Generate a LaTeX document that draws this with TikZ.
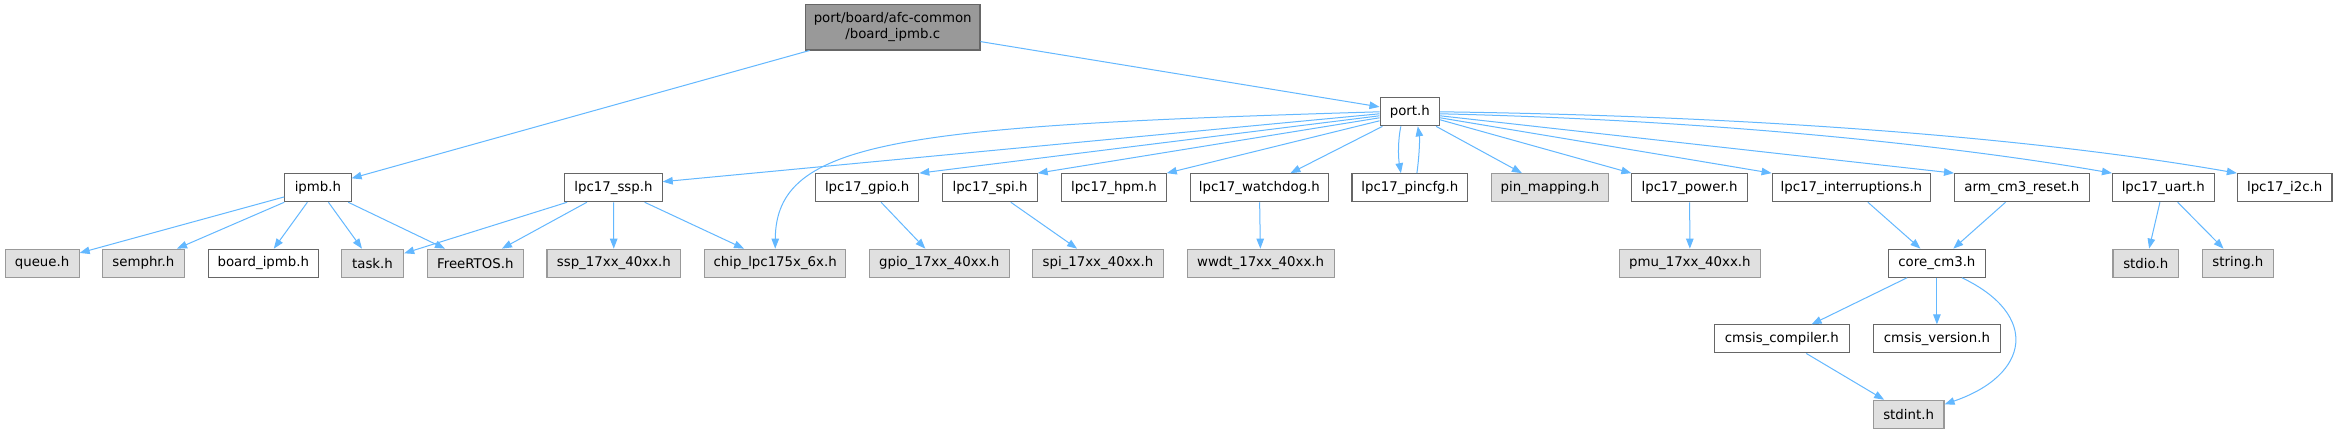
\documentclass[tikz,border=0pt]{standalone}
\usepackage{fontspec}
\setmainfont{DejaVu Sans}
\usetikzlibrary{arrows.meta,calc}
\definecolor{edgec}{HTML}{63B8FF}
\definecolor{bordw}{HTML}{666666}
\definecolor{bordg}{HTML}{999999}
\definecolor{fillg}{HTML}{E0E0E0}
\definecolor{fillm}{HTML}{999999}
\begin{document}
\begin{tikzpicture}[x=1pt,y=-1pt,
 box/.style={rectangle,draw,line width=1.1pt,inner sep=0pt,minimum height=28pt,font=\fontsize{13.33}{16}\selectfont,text=black},
 wnode/.style={box,draw=bordw,fill=white},
 gnode/.style={box,draw=bordg,fill=fillg},
 mnode/.style={box,draw=bordw,fill=fillm,align=center},
 conn/.style={draw=edgec,line width=1pt,-{Triangle[length=10pt,width=7.5pt]}},
]
\fill[white] (0,0) rectangle (2337,434);
\useasboundingbox (0,0) rectangle (2337,434);
% row 0/1
\node[mnode,minimum width=174.5pt,minimum height=45.3pt] (bic) at (892.7,27.3) {port/board/afc-common\\/board\_ipmb.c};
\node[wnode,minimum width=59.5pt] (port) at (1409.8,111.8) {port.h};
% row 2
\node[wnode,minimum width=66.3pt] (ipmb) at (317.9,187.7) {ipmb.h};
\node[wnode,minimum width=97.4pt] (ssp) at (613.5,187.7) {lpc17\_ssp.h};
\node[wnode,minimum width=103.1pt] (gpio) at (867.2,187.7) {lpc17\_gpio.h};
\node[wnode,minimum width=94.3pt] (spi) at (990,187.7) {lpc17\_spi.h};
\node[wnode,minimum width=104.6pt] (hpm) at (1113.9,187.7) {lpc17\_hpm.h};
\node[wnode,minimum width=138.3pt] (wdog) at (1259.4,187.7) {lpc17\_watchdog.h};
\node[wnode,minimum width=115.9pt] (pincfg) at (1409.9,187.7) {lpc17\_pincfg.h};
\node[gnode,minimum width=117.4pt] (pinmap) at (1549.9,187.7) {pin\_mapping.h};
\node[wnode,minimum width=115.4pt] (power) at (1689.6,187.7) {lpc17\_power.h};
\node[wnode,minimum width=158.6pt] (intr) at (1851.4,187.7) {lpc17\_interruptions.h};
\node[wnode,minimum width=134.7pt] (armrst) at (2021.9,187.7) {arm\_cm3\_reset.h};
\node[wnode,minimum width=101.6pt] (uart) at (2163.3,187.7) {lpc17\_uart.h};
\node[wnode,minimum width=94.6pt] (itwoc) at (2284.7,187.7) {lpc17\_i2c.h};
% row 3
\node[gnode,minimum width=74pt] (queue) at (42.1,263.2) {queue.h};
\node[gnode,minimum width=82.7pt] (semphr) at (143.4,263.2) {semphr.h};
\node[wnode,minimum width=110.2pt] (bipmbh) at (263.3,263.2) {board\_ipmb.h};
\node[gnode,minimum width=62.3pt] (task) at (372.5,263.2) {task.h};
\node[gnode,minimum width=96.5pt] (frtos) at (475.3,263.2) {FreeRTOS.h};
\node[gnode,minimum width=133.7pt] (ssphw) at (613.8,263.2) {ssp\_17xx\_40xx.h};
\node[gnode,minimum width=141.2pt] (chip) at (775.2,263.2) {chip\_lpc175x\_6x.h};
\node[gnode,minimum width=139.8pt] (gpiohw) at (939.2,263.2) {gpio\_17xx\_40xx.h};
\node[gnode,minimum width=130.6pt] (spihw) at (1097.9,263.2) {spi\_17xx\_40xx.h};
\node[gnode,minimum width=147pt] (wwdt) at (1260.6,263.2) {wwdt\_17xx\_40xx.h};
\node[gnode,minimum width=140.7pt] (pmu) at (1689.9,263.2) {pmu\_17xx\_40xx.h};
\node[wnode,minimum width=96.7pt] (core) at (1936.9,263.2) {core\_cm3.h};
\node[gnode,minimum width=65.4pt] (stdio) at (2145.7,263.2) {stdio.h};
\node[gnode,minimum width=70.4pt] (strh) at (2237.9,263.2) {string.h};
% row 4/5
\node[wnode,minimum width=135.3pt] (ccomp) at (1781.8,338.9) {cmsis\_compiler.h};
\node[wnode,minimum width=127.3pt] (cver) at (1936.9,338.9) {cmsis\_version.h};
\node[gnode,minimum width=70.8pt] (stdint) at (1908.6,414.3) {stdint.h};
% edges
\draw[conn] (bic) -- (ipmb);
\draw[conn] (bic) -- (port);
\draw[conn] (ipmb) -- (queue);
\draw[conn] (ipmb) -- (semphr);
\draw[conn] (ipmb) -- (bipmbh);
\draw[conn] (ipmb) -- (task);
\draw[conn] (ipmb) -- (frtos);
\draw[conn] (ssp) -- (task);
\draw[conn] (ssp) -- (frtos);
\draw[conn] (ssp) -- (ssphw);
\draw[conn] (ssp) -- (chip);
\draw[conn] (port.west) .. controls (900,126) and (776,140) .. (chip.north);
\draw[conn] ($(port.west)+(0,2)$) -- ($(ssp.east)+(0,-6)$);
\draw[conn] ($(port.west)+(0,4)$) -- (gpio.north east);
\draw[conn] ($(port.west)+(0,6)$) -- (spi.north east);
\draw[conn] ($(port.west)+(0,9)$) -- (hpm.north east);
\draw[conn] ($(port.south west)+(3,0)$) -- ($(wdog.north)+(31,0)$);
\draw[conn] ($(port.south)+(-9,0)$) .. controls (1398,140) and (1398,156) .. ($(pincfg.north)+(-9,0)$);
\draw[conn] ($(pincfg.north)+(7,0)$) .. controls (1419,158) and (1420,140) .. ($(port.south)+(8,0)$);
\draw[conn] ($(port.south east)+(-4,0)$) -- ($(pinmap.north)+(-28,0)$);
\draw[conn] ($(port.east)+(0,8)$) -- (power.north west);
\draw[conn] ($(port.east)+(0,6)$) -- (intr.north west);
\draw[conn] ($(port.east)+(0,4)$) -- (armrst.north west);
\draw[conn] ($(port.east)+(0,2)$) .. controls (1710,120) and (1950,145) .. (uart.north west);
\draw[conn] ($(port.east)+(0,0)$) .. controls (1757,116) and (2036,138) .. (itwoc.north west);
\draw[conn] (gpio) -- (gpiohw);
\draw[conn] (spi) -- (spihw);
\draw[conn] (wdog) -- (wwdt);
\draw[conn] (power) -- (pmu);
\draw[conn] (intr) -- (core);
\draw[conn] (armrst) -- (core);
\draw[conn] (uart) -- (stdio);
\draw[conn] (uart) -- (strh);
\draw[conn] (core) -- (ccomp);
\draw[conn] (core) -- (cver);
\draw[conn] ($(core.south)+(25,0)$) .. controls (2040,315) and (2030,375) .. ($(stdint.east)+(0,-10)$);
\draw[conn] (ccomp) -- (stdint);
\end{tikzpicture}
\end{document}
